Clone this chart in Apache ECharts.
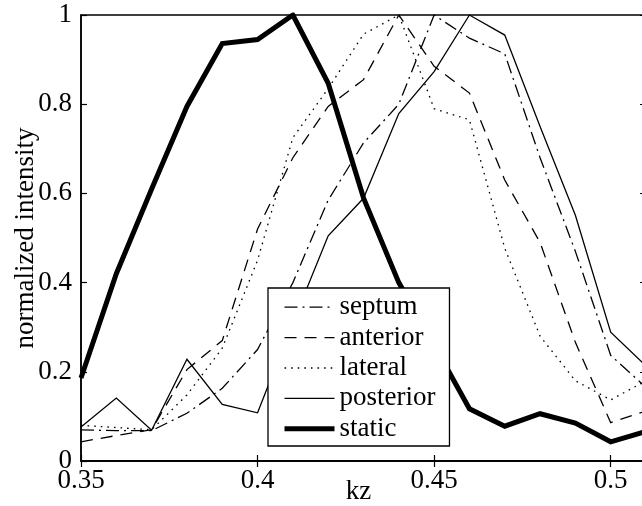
<!DOCTYPE html>
<html>
<head>
<meta charset="utf-8">
<script src="https://cdn.jsdelivr.net/npm/echarts@6/dist/echarts.min.js"></script>
<style>
  html, body { margin: 0; padding: 0; background: #fff; }
  #chart { width: 642px; height: 506px; }
</style>
</head>
<body>
<div id="chart"></div>
<script>
// Spatial frequency samples along kz
const kz = [0.35, 0.36, 0.37, 0.38, 0.39, 0.40, 0.41, 0.42, 0.43, 0.44, 0.45, 0.46, 0.47, 0.48, 0.49, 0.50, 0.51];

// Normalized intensity per myocardial segment
const septum    = [0.070, 0.068, 0.068, 0.107, 0.163, 0.250, 0.400, 0.585, 0.713, 0.800, 1.000, 0.948, 0.913, 0.680, 0.470, 0.237, 0.165];
const anterior  = [0.043, 0.057, 0.070, 0.205, 0.270, 0.520, 0.680, 0.795, 0.855, 1.000, 0.885, 0.825, 0.630, 0.490, 0.266, 0.086, 0.112];
const lateral   = [0.080, 0.075, 0.070, 0.148, 0.253, 0.450, 0.725, 0.835, 0.957, 1.000, 0.790, 0.765, 0.477, 0.280, 0.180, 0.137, 0.180];
const posterior = [0.076, 0.141, 0.069, 0.228, 0.127, 0.108, 0.310, 0.505, 0.589, 0.779, 0.873, 1.000, 0.955, 0.750, 0.551, 0.289, 0.213];
const staticTissue = [0.186, 0.420, 0.610, 0.795, 0.936, 0.945, 1.000, 0.847, 0.590, 0.400, 0.260, 0.117, 0.078, 0.106, 0.085, 0.043, 0.066];

const xTicks = [0.35, 0.40, 0.45, 0.50];

const FONT = '"Liberation Serif", "Times New Roman", serif';

const THIN = 1.3;
const THICK = 5;

function pairs(values) {
  return kz.map((x, i) => [x, values[i]]);
}

function trimNum(v) {
  return String(parseFloat(v.toFixed(2)));
}

function lineSeries(name, values, width, type) {
  return {
    name: name,
    type: 'line',
    data: pairs(values),
    symbol: 'none',
    smooth: false,
    lineStyle: { color: '#000', width: width, type: type, cap: 'butt', join: 'miter' },
    itemStyle: { color: '#000' },
    emphasis: { disabled: true },
    animation: false
  };
}

const chart = echarts.init(document.getElementById('chart'), null, { renderer: 'canvas' });

const tickStyle = { show: true, inside: true, length: 6, lineStyle: { color: '#000', width: 1.2 } };

chart.setOption({
  backgroundColor: '#fff',
  animation: false,
  grid: {
    left: 81, top: 15, width: 565, height: 446,
    outerBoundsMode: 'none',
    containLabel: false,
    show: true, borderColor: '#000', borderWidth: 1.5, backgroundColor: 'transparent'
  },
  legend: {
    orient: 'vertical',
    left: 268, top: 288,
    backgroundColor: '#fff',
    borderColor: '#000',
    borderWidth: 1.3,
    borderRadius: 0,
    padding: [4, 14, 2, 14],
    itemWidth: 50,
    itemHeight: 14,
    itemGap: 0,
    selectedMode: false,
    itemStyle: { opacity: 0 },
    textStyle: { fontFamily: FONT, fontSize: 27, color: '#000', lineHeight: 30.4 },
    data: [
      { name: 'septum', lineStyle: { width: THIN } },
      { name: 'anterior', lineStyle: { width: THIN } },
      { name: 'lateral', lineStyle: { width: THIN } },
      { name: 'posterior', lineStyle: { width: THIN } },
      { name: 'static', lineStyle: { width: THICK } }
    ]
  },
  xAxis: [
    {
      type: 'value', min: 0.35, max: 0.51, interval: 0.05,
      name: 'kz', nameLocation: 'middle', nameGap: 17, nameMoveOverlap: false,
      nameTextStyle: { fontFamily: FONT, fontSize: 27, color: '#000', padding: [0, 10, 0, 0] },
      axisLine: { show: true, onZero: false, lineStyle: { color: '#000', width: 1.5 } },
      axisTick: tickStyle,
      splitLine: { show: false },
      axisLabel: {
        fontFamily: FONT, fontSize: 27, color: '#000', margin: 6,
        formatter: v => xTicks.some(t => Math.abs(t - v) < 1e-9) ? trimNum(v) : ''
      }
    },
    {
      type: 'value', min: 0.35, max: 0.51, interval: 0.05, position: 'top',
      axisLine: { show: true, lineStyle: { color: '#000', width: 1.5 } },
      axisTick: tickStyle,
      axisLabel: { show: false },
      splitLine: { show: false }
    }
  ],
  yAxis: [
    {
      type: 'value', min: 0, max: 1, interval: 0.2,
      name: 'normalized intensity', nameLocation: 'middle', nameGap: 42, nameMoveOverlap: false,
      nameTextStyle: { fontFamily: FONT, fontSize: 27, color: '#000' },
      axisLine: { show: true, onZero: false, lineStyle: { color: '#000', width: 1.5 } },
      axisTick: tickStyle,
      splitLine: { show: false },
      axisLabel: { fontFamily: FONT, fontSize: 27, color: '#000', margin: 9, formatter: v => trimNum(v) }
    },
    {
      type: 'value', min: 0, max: 1, interval: 0.2, position: 'right',
      axisLine: { show: true, lineStyle: { color: '#000', width: 1.5 } },
      axisTick: tickStyle,
      axisLabel: { show: false },
      splitLine: { show: false }
    }
  ],
  series: [
    lineSeries('septum', septum, THIN, [13, 5, 2, 5]),
    lineSeries('anterior', anterior, THIN, [12, 8]),
    lineSeries('lateral', lateral, THIN, [1.6, 5]),
    lineSeries('posterior', posterior, THIN, 'solid'),
    lineSeries('static', staticTissue, THICK, 'solid')
  ]
});
</script>
</body>
</html>
